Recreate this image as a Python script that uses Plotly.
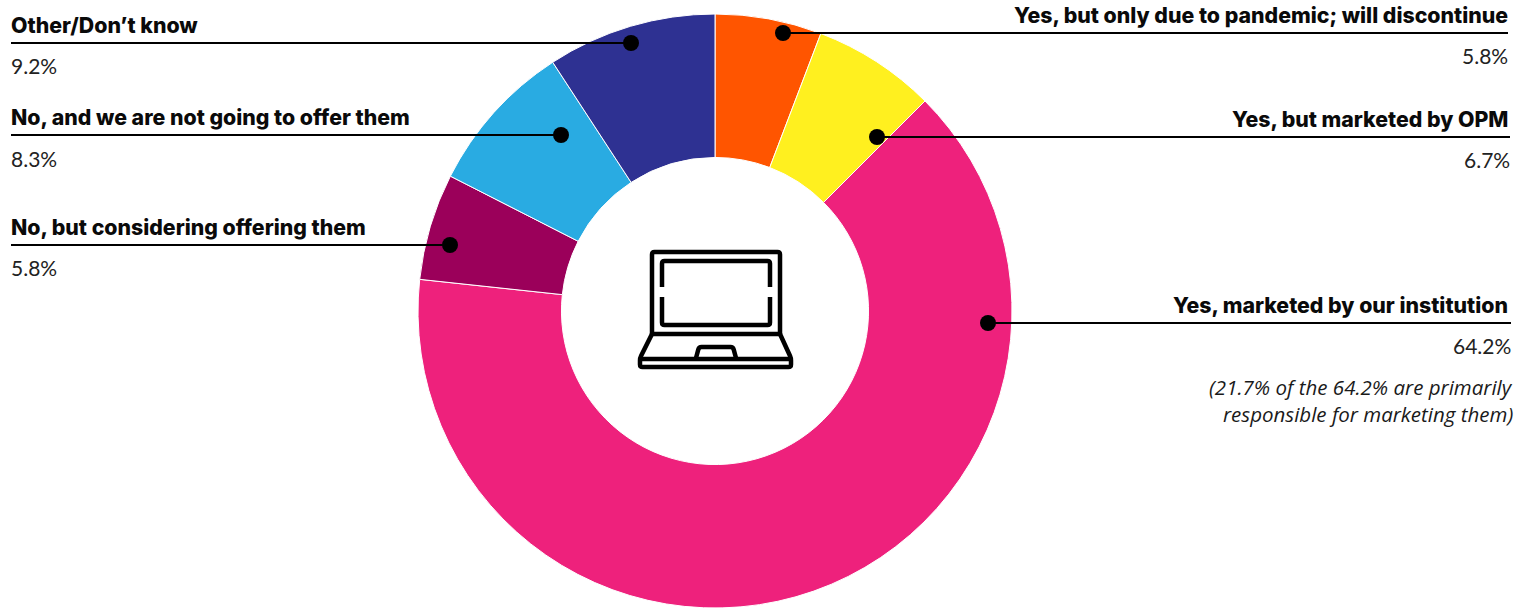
import plotly.graph_objects as go

WIDTH, HEIGHT = 1523, 608

# Survey responses, clockwise from twelve o'clock
categories = [
    "Yes, but only due to pandemic; will discontinue",
    "Yes, but marketed by OPM",
    "Yes, marketed by our institution",
    "No, but considering offering them",
    "No, and we are not going to offer them",
    "Other/Don’t know",
]
shares = [5.8, 6.7, 64.2, 5.8, 8.3, 9.2]
slice_colors = ["#FF5500", "#FFF01F", "#EE217C", "#9B005A", "#29ABE2", "#2E3192"]
footnote_lines = ["(21.7% of the 64.2% are primarily", "responsible for marketing them)"]

# Callout geometry in page pixels: dot x, leader y, leader far end, label y, value y
callouts = [
    (783, 33, 1508, 15, 56),
    (877, 137, 1510, 119, 160),
    (988, 323, 1511, 305, 345),
    (450, 245, 11, 227, 267),
    (561, 135, 11, 117, 158),
    (631, 43, 11, 25, 65),
]

BOLD_FONT = "Inter"
BODY_FONT = "Lato"
ITALIC_FONT = "Open Sans"
TEXT_PAD = 2
RIGHT_LABEL_EDGE = 1510


def px(x):
    return x / WIDTH


def py(y):
    return 1 - y / HEIGHT


def rounded_path(points, radius=2.5):
    """Polyline through page-pixel points, with softened corners."""
    def pt(p):
        return f"{px(p[0]):.5f} {py(p[1]):.5f}"

    def toward(a, b):
        dx, dy = b[0] - a[0], b[1] - a[1]
        length = (dx * dx + dy * dy) ** 0.5
        r = min(radius, length / 2)
        return (a[0] + dx / length * r, a[1] + dy / length * r)

    d = "M " + pt(points[0])
    for i in range(1, len(points) - 1):
        cur = points[i]
        d += " L " + pt(toward(cur, points[i - 1])) + " Q " + pt(cur) + " " + pt(toward(cur, points[i + 1]))
    return d + " L " + pt(points[-1])


shapes = []
annotations = []

# Leader lines, dots and their labels
for name, share, (dot_x, line_y, far_x, label_y, value_y) in zip(categories, shares, callouts):
    on_right = far_x > dot_x
    anchor = "right" if on_right else "left"
    label_x = px(RIGHT_LABEL_EDGE) if on_right else px(far_x - TEXT_PAD)
    value_x = px(far_x + TEXT_PAD) if on_right else px(far_x - TEXT_PAD)
    shapes.append(dict(type="line", xref="paper", yref="paper", layer="above",
                       x0=px(dot_x), x1=px(far_x), y0=py(line_y), y1=py(line_y),
                       line=dict(color="#000000", width=2)))
    shapes.append(dict(type="circle", xref="paper", yref="paper", layer="above",
                       x0=px(dot_x - 8), x1=px(dot_x + 8), y0=py(line_y - 8), y1=py(line_y + 8),
                       fillcolor="#000000", line=dict(width=0)))
    annotations.append(dict(x=label_x, y=py(label_y), xref="paper", yref="paper",
                            text=name, showarrow=False, xanchor=anchor, yanchor="middle",
                            font=dict(family=BOLD_FONT, size=21.3, weight=800, color="#0a0a0a")))
    annotations.append(dict(x=value_x, y=py(value_y), xref="paper", yref="paper",
                            text=f"{share}%", showarrow=False, xanchor=anchor, yanchor="middle",
                            font=dict(family=BODY_FONT, size=21, color="#222222")))

# Italic note under the largest slice
for line, y in zip(footnote_lines, (387, 414)):
    annotations.append(dict(x=px(1515), y=py(y), xref="paper", yref="paper", text=f"<i>{line}</i>",
                            showarrow=False, xanchor="right", yanchor="middle",
                            font=dict(family=ITALIC_FONT, size=20.5, color="#1a1a1a")))

# Laptop icon in the hole of the ring
icon_strokes = [
    [(652, 334), (652, 252), (780, 252), (780, 334)],
    [(662, 287), (662, 261), (770, 261), (770, 287)],
    [(662, 297), (662, 325), (770, 325), (770, 297)],
    [(652, 334), (780, 334)],
    [(652, 334), (640, 358), (640, 367), (791, 367), (791, 358), (780, 334)],
    [(640, 359), (791, 359)],
    [(696, 358), (699, 347), (733, 347), (736, 358)],
]
for points in icon_strokes:
    shapes.append(dict(type="path", xref="paper", yref="paper", layer="above",
                       path=rounded_path(points),
                       line=dict(color="#000000", width=4.5)))

fig = go.Figure(
    go.Pie(
        labels=categories,
        values=shares,
        sort=False,
        direction="clockwise",
        rotation=0,
        hole=0.517,
        marker=dict(colors=slice_colors, line=dict(color="#FFFFFF", width=1)),
        textinfo="none",
        hoverinfo="label+percent",
        domain=dict(x=[px(418), px(1012)], y=[py(608), py(14)]),
    )
)

fig.update_layout(
    width=WIDTH,
    height=HEIGHT,
    margin=dict(l=0, r=0, t=0, b=0),
    paper_bgcolor="#FFFFFF",
    showlegend=False,
    shapes=shapes,
    annotations=annotations,
)

fig.write_html("out.html", config=dict(displayModeBar=False))
